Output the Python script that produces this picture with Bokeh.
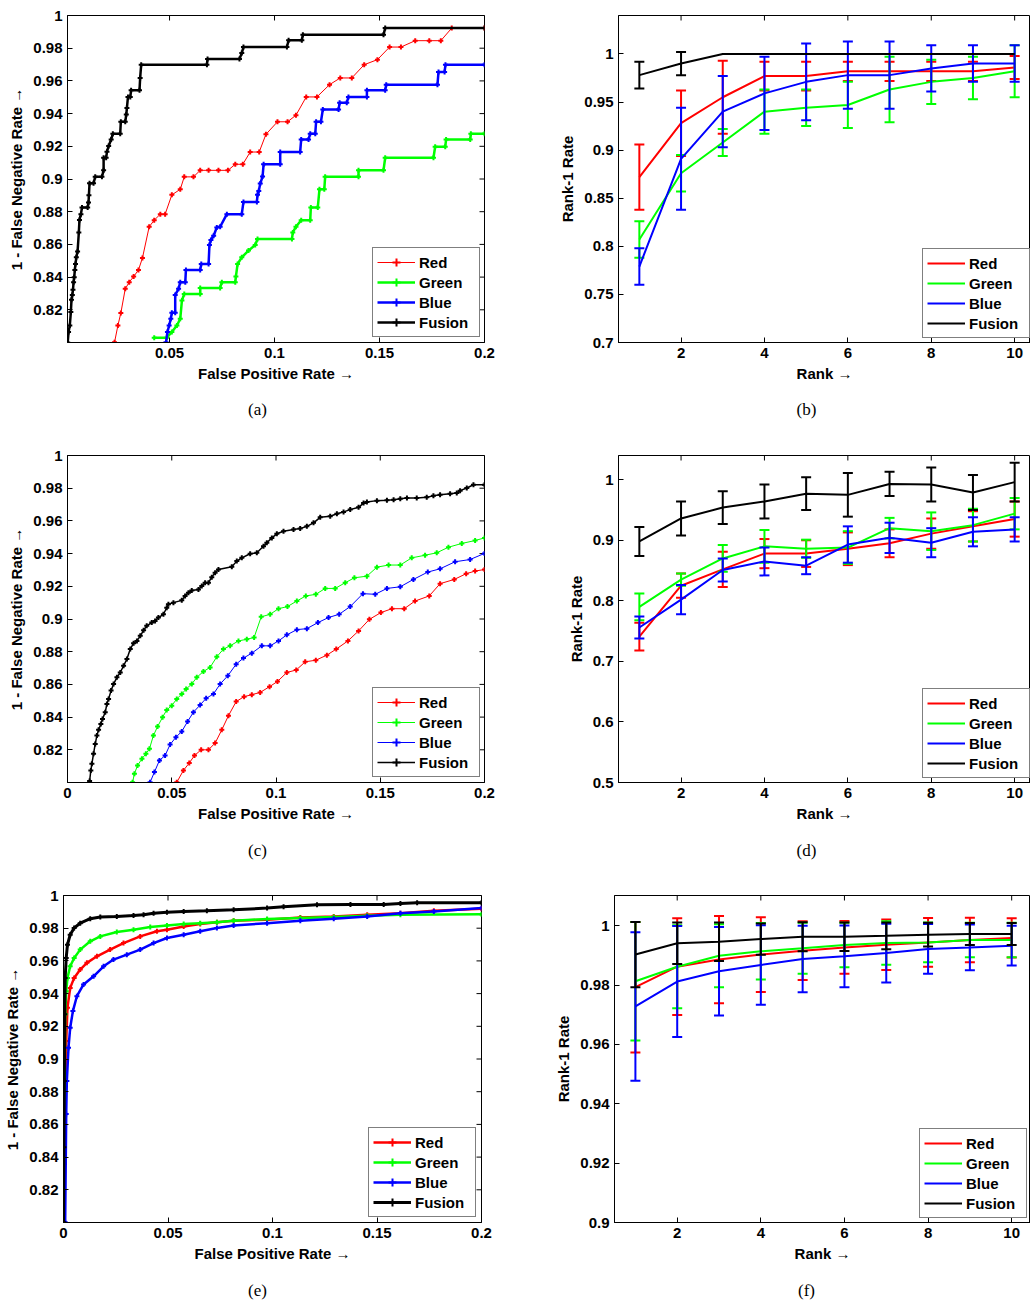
import math
from bokeh.plotting import figure
from bokeh.models import (ColumnDataSource, Range1d, FixedTicker,
                          Legend, LegendItem, CustomJSTickFormatter)
from bokeh.core.properties import value
from bokeh.layouts import row, column
from bokeh.embed import file_html
from bokeh.resources import INLINE

# ---------------- data ----------------
SERIES = ["Red", "Green", "Blue", "Fusion"]
RANKS = [1, 2, 3, 4, 5, 6, 7, 8, 9, 10]
CAPTIONS = [["(a)", "(b)"], ["(c)", "(d)"], ["(e)", "(f)"]]

ROC_XTICKS = [0, 0.05, 0.1, 0.15, 0.2]
ROC_YTICKS = [0.82, 0.84, 0.86, 0.88, 0.9, 0.92, 0.94, 0.96, 0.98, 1.0]
RANK_XTICKS = [2, 4, 6, 8, 10]
B_YTICKS = [0.7, 0.75, 0.8, 0.85, 0.9, 0.95, 1.0]
D_YTICKS = [0.5, 0.6, 0.7, 0.8, 0.9, 1.0]
F_YTICKS = [0.9, 0.92, 0.94, 0.96, 0.98, 1.0]

# (a) ROC
a_red_x = [0.0238, 0.0254, 0.0268, 0.0289, 0.0308, 0.0329, 0.0352, 0.0371, 0.0403, 0.0427, 0.0456, 0.0479, 0.0511, 0.0551, 0.0570, 0.0614, 0.0646, 0.0686, 0.0733, 0.0778, 0.0813, 0.0849, 0.0884, 0.0927, 0.0959, 0.1014, 0.1062, 0.1102, 0.1151, 0.1202, 0.1262, 0.1313, 0.1368, 0.1427, 0.1490, 0.1548, 0.1602, 0.1670, 0.1737, 0.1792, 0.1844, 0.2000]
a_red_y = [0.8001, 0.8104, 0.8180, 0.8328, 0.8369, 0.8403, 0.8444, 0.8517, 0.8708, 0.8748, 0.8785, 0.8785, 0.8903, 0.8937, 0.9013, 0.9013, 0.9053, 0.9053, 0.9053, 0.9053, 0.9090, 0.9090, 0.9165, 0.9165, 0.9273, 0.9350, 0.9350, 0.9390, 0.9502, 0.9502, 0.9577, 0.9618, 0.9618, 0.9699, 0.9730, 0.9807, 0.9807, 0.9846, 0.9846, 0.9846, 0.9923, 0.9923]
a_green_x = [0.0427, 0.0487, 0.0511, 0.0535, 0.0551, 0.0559, 0.0570, 0.0646, 0.0646, 0.0741, 0.0749, 0.0813, 0.0816, 0.0824, 0.0844, 0.0876, 0.0908, 0.0919, 0.1083, 0.1087, 0.1102, 0.1127, 0.1170, 0.1173, 0.1206, 0.1214, 0.1237, 0.1241, 0.1400, 0.1400, 0.1519, 0.1527, 0.1757, 0.1765, 0.1813, 0.1817, 0.1932, 0.1935, 0.2000]
a_green_y = [0.8029, 0.8029, 0.8064, 0.8104, 0.8145, 0.8257, 0.8297, 0.8297, 0.8334, 0.8334, 0.8369, 0.8369, 0.8403, 0.8480, 0.8521, 0.8562, 0.8596, 0.8633, 0.8633, 0.8673, 0.8708, 0.8748, 0.8748, 0.8826, 0.8826, 0.8937, 0.8937, 0.9013, 0.9013, 0.9053, 0.9053, 0.9130, 0.9130, 0.9197, 0.9197, 0.9242, 0.9242, 0.9277, 0.9277]
a_blue_x = [0.0483, 0.0490, 0.0498, 0.0506, 0.0511, 0.0527, 0.0527, 0.0543, 0.0551, 0.0575, 0.0578, 0.0646, 0.0651, 0.0686, 0.0690, 0.0697, 0.0710, 0.0725, 0.0741, 0.0773, 0.0844, 0.0852, 0.0916, 0.0919, 0.0925, 0.0932, 0.0943, 0.0948, 0.1027, 0.1027, 0.1122, 0.1127, 0.1162, 0.1170, 0.1194, 0.1198, 0.1221, 0.1230, 0.1305, 0.1310, 0.1344, 0.1352, 0.1440, 0.1440, 0.1527, 0.1532, 0.1776, 0.1781, 0.1810, 0.1814, 0.2000]
a_blue_y = [0.8001, 0.8064, 0.8104, 0.8145, 0.8182, 0.8182, 0.8291, 0.8328, 0.8369, 0.8369, 0.8444, 0.8444, 0.8480, 0.8480, 0.8596, 0.8627, 0.8653, 0.8704, 0.8708, 0.8785, 0.8785, 0.8860, 0.8860, 0.8903, 0.8927, 0.8972, 0.9015, 0.9090, 0.9090, 0.9165, 0.9165, 0.9242, 0.9242, 0.9277, 0.9277, 0.9350, 0.9350, 0.9425, 0.9425, 0.9466, 0.9466, 0.9502, 0.9502, 0.9543, 0.9543, 0.9577, 0.9577, 0.9655, 0.9655, 0.9699, 0.9699]
a_fus_x = [0.0015, 0.0019, 0.0025, 0.0030, 0.0033, 0.0037, 0.0040, 0.0043, 0.0046, 0.0049, 0.0052, 0.0056, 0.0062, 0.0068, 0.0071, 0.0078, 0.0083, 0.0110, 0.0114, 0.0116, 0.0119, 0.0138, 0.0146, 0.0178, 0.0186, 0.0186, 0.0198, 0.0202, 0.0210, 0.0222, 0.0230, 0.0265, 0.0268, 0.0289, 0.0294, 0.0297, 0.0302, 0.0313, 0.0317, 0.0357, 0.0360, 0.0365, 0.0678, 0.0681, 0.0833, 0.0844, 0.0852, 0.1059, 0.1067, 0.1130, 0.1135, 0.1519, 0.1527, 0.2000]
a_fus_y = [0.8000, 0.8064, 0.8104, 0.8186, 0.8261, 0.8291, 0.8322, 0.8369, 0.8399, 0.8444, 0.8480, 0.8521, 0.8557, 0.8673, 0.8750, 0.8785, 0.8826, 0.8826, 0.8856, 0.8901, 0.8974, 0.8974, 0.9013, 0.9013, 0.9053, 0.9130, 0.9130, 0.9167, 0.9202, 0.9242, 0.9277, 0.9277, 0.9350, 0.9350, 0.9395, 0.9435, 0.9502, 0.9502, 0.9543, 0.9543, 0.9618, 0.9699, 0.9699, 0.9734, 0.9734, 0.9770, 0.9807, 0.9807, 0.9848, 0.9848, 0.9882, 0.9882, 0.9923, 0.9923]

# (c) ROC
c_red_x = [0.0524, 0.0556, 0.0584, 0.0609, 0.0641, 0.0676, 0.0708, 0.0740, 0.0772, 0.0809, 0.0847, 0.0884, 0.0924, 0.0969, 0.1007, 0.1052, 0.1097, 0.1140, 0.1191, 0.1244, 0.1289, 0.1345, 0.1396, 0.1448, 0.1503, 0.1556, 0.1615, 0.1667, 0.1735, 0.1787, 0.1855, 0.1912, 0.1955, 0.2000]
c_red_y = [0.8001, 0.8074, 0.8119, 0.8165, 0.8200, 0.8200, 0.8241, 0.8322, 0.8409, 0.8495, 0.8525, 0.8537, 0.8551, 0.8586, 0.8618, 0.8673, 0.8688, 0.8738, 0.8748, 0.8779, 0.8816, 0.8866, 0.8927, 0.8998, 0.9039, 0.9063, 0.9063, 0.9110, 0.9141, 0.9216, 0.9242, 0.9277, 0.9293, 0.9303]
c_green_x = [0.0312, 0.0321, 0.0336, 0.0357, 0.0376, 0.0393, 0.0412, 0.0432, 0.0456, 0.0476, 0.0500, 0.0524, 0.0548, 0.0569, 0.0596, 0.0620, 0.0652, 0.0684, 0.0716, 0.0748, 0.0780, 0.0820, 0.0860, 0.0895, 0.0929, 0.0972, 0.1012, 0.1055, 0.1100, 0.1143, 0.1191, 0.1236, 0.1284, 0.1332, 0.1376, 0.1436, 0.1484, 0.1540, 0.1596, 0.1651, 0.1715, 0.1771, 0.1827, 0.1891, 0.1955, 0.2000]
c_green_y = [0.8001, 0.8054, 0.8104, 0.8145, 0.8176, 0.8206, 0.8287, 0.8342, 0.8399, 0.8444, 0.8470, 0.8511, 0.8541, 0.8572, 0.8602, 0.8643, 0.8679, 0.8704, 0.8769, 0.8816, 0.8836, 0.8866, 0.8876, 0.8887, 0.9013, 0.9029, 0.9063, 0.9076, 0.9110, 0.9141, 0.9151, 0.9187, 0.9187, 0.9222, 0.9252, 0.9262, 0.9317, 0.9330, 0.9330, 0.9374, 0.9390, 0.9405, 0.9439, 0.9462, 0.9480, 0.9496]
c_blue_x = [0.0396, 0.0417, 0.0441, 0.0468, 0.0492, 0.0520, 0.0548, 0.0576, 0.0604, 0.0636, 0.0665, 0.0700, 0.0732, 0.0769, 0.0809, 0.0844, 0.0884, 0.0932, 0.0972, 0.1012, 0.1052, 0.1100, 0.1148, 0.1201, 0.1252, 0.1303, 0.1356, 0.1417, 0.1476, 0.1532, 0.1596, 0.1659, 0.1728, 0.1787, 0.1859, 0.1931, 0.2000]
c_blue_y = [0.8001, 0.8064, 0.8135, 0.8165, 0.8232, 0.8277, 0.8312, 0.8373, 0.8430, 0.8474, 0.8515, 0.8541, 0.8602, 0.8653, 0.8724, 0.8761, 0.8791, 0.8836, 0.8836, 0.8866, 0.8903, 0.8935, 0.8941, 0.8978, 0.9009, 0.9029, 0.9076, 0.9155, 0.9151, 0.9187, 0.9197, 0.9242, 0.9287, 0.9307, 0.9350, 0.9364, 0.9401]
c_fus_x = [0.0106, 0.0112, 0.0117, 0.0125, 0.0133, 0.0141, 0.0149, 0.0160, 0.0168, 0.0181, 0.0189, 0.0197, 0.0209, 0.0221, 0.0237, 0.0253, 0.0269, 0.0285, 0.0301, 0.0317, 0.0333, 0.0349, 0.0365, 0.0380, 0.0404, 0.0420, 0.0436, 0.0460, 0.0476, 0.0484, 0.0508, 0.0548, 0.0564, 0.0580, 0.0596, 0.0628, 0.0644, 0.0660, 0.0676, 0.0692, 0.0708, 0.0724, 0.0788, 0.0812, 0.0836, 0.0876, 0.0908, 0.0940, 0.0956, 0.0980, 0.1004, 0.1036, 0.1084, 0.1116, 0.1148, 0.1180, 0.1212, 0.1260, 0.1292, 0.1324, 0.1356, 0.1396, 0.1420, 0.1436, 0.1484, 0.1532, 0.1564, 0.1596, 0.1628, 0.1675, 0.1723, 0.1755, 0.1787, 0.1835, 0.1867, 0.1883, 0.1915, 0.1947, 0.2000]
c_fus_y = [0.8009, 0.8074, 0.8115, 0.8176, 0.8236, 0.8287, 0.8322, 0.8358, 0.8389, 0.8430, 0.8480, 0.8511, 0.8562, 0.8602, 0.8643, 0.8673, 0.8714, 0.8755, 0.8816, 0.8852, 0.8866, 0.8897, 0.8931, 0.8958, 0.8978, 0.8988, 0.9009, 0.9029, 0.9069, 0.9090, 0.9100, 0.9114, 0.9141, 0.9161, 0.9175, 0.9181, 0.9202, 0.9222, 0.9222, 0.9256, 0.9283, 0.9303, 0.9319, 0.9354, 0.9374, 0.9399, 0.9405, 0.9445, 0.9466, 0.9496, 0.9521, 0.9537, 0.9547, 0.9553, 0.9567, 0.9588, 0.9622, 0.9628, 0.9644, 0.9655, 0.9669, 0.9683, 0.9709, 0.9716, 0.9724, 0.9726, 0.9730, 0.9736, 0.9740, 0.9740, 0.9744, 0.9754, 0.9760, 0.9766, 0.9770, 0.9785, 0.9801, 0.9821, 0.9821]

# (e) ROC
e_red_x = [0.0005, 0.0008, 0.0013, 0.0019, 0.0032, 0.0051, 0.0080, 0.0112, 0.0160, 0.0223, 0.0287, 0.0367, 0.0447, 0.0495, 0.0575, 0.0654, 0.0734, 0.0814, 0.0974, 0.1133, 0.1293, 0.1453, 0.1612, 0.1772, 0.2000]
e_red_y = [0.8001, 0.8663, 0.9110, 0.9313, 0.9435, 0.9496, 0.9547, 0.9588, 0.9628, 0.9669, 0.9709, 0.9750, 0.9781, 0.9791, 0.9811, 0.9825, 0.9837, 0.9846, 0.9852, 0.9866, 0.9872, 0.9882, 0.9892, 0.9907, 0.9919]
e_green_x = [0.0003, 0.0005, 0.0008, 0.0013, 0.0019, 0.0032, 0.0051, 0.0080, 0.0128, 0.0176, 0.0255, 0.0335, 0.0415, 0.0495, 0.0575, 0.0654, 0.0734, 0.0814, 0.0974, 0.1133, 0.1293, 0.1453, 0.1612, 0.2000]
e_green_y = [0.8001, 0.8663, 0.9273, 0.9415, 0.9496, 0.9567, 0.9618, 0.9669, 0.9720, 0.9750, 0.9777, 0.9791, 0.9807, 0.9817, 0.9825, 0.9831, 0.9837, 0.9846, 0.9856, 0.9862, 0.9868, 0.9876, 0.9882, 0.9886]
e_blue_x = [0.0008, 0.0013, 0.0016, 0.0024, 0.0032, 0.0045, 0.0064, 0.0096, 0.0144, 0.0192, 0.0239, 0.0303, 0.0367, 0.0431, 0.0495, 0.0575, 0.0654, 0.0734, 0.0814, 0.0974, 0.1133, 0.1293, 0.1453, 0.1612, 0.1772, 0.2000]
e_blue_y = [0.8001, 0.8663, 0.8866, 0.9069, 0.9191, 0.9293, 0.9384, 0.9456, 0.9506, 0.9567, 0.9608, 0.9638, 0.9669, 0.9709, 0.9740, 0.9760, 0.9781, 0.9801, 0.9817, 0.9831, 0.9846, 0.9858, 0.9872, 0.9892, 0.9902, 0.9923]
e_fus_x = [0.0000, 0.0002, 0.0004, 0.0006, 0.0008, 0.0013, 0.0019, 0.0032, 0.0051, 0.0080, 0.0128, 0.0176, 0.0255, 0.0335, 0.0383, 0.0431, 0.0495, 0.0575, 0.0686, 0.0814, 0.0974, 0.1053, 0.1213, 0.1373, 0.1532, 0.1612, 0.1692, 0.2000]
e_fus_y = [0.8001, 0.8460, 0.8866, 0.9273, 0.9496, 0.9618, 0.9699, 0.9760, 0.9801, 0.9831, 0.9858, 0.9868, 0.9872, 0.9878, 0.9882, 0.9892, 0.9898, 0.9902, 0.9907, 0.9913, 0.9923, 0.9931, 0.9943, 0.9945, 0.9945, 0.9951, 0.9955, 0.9955]

# (b) rank-1 rate (mean, error)
b_red_mean = [0.872, 0.928, 0.955, 0.977, 0.977, 0.982, 0.982, 0.982, 0.982, 0.986]
b_red_err = [0.034, 0.034, 0.038, 0.015, 0.015, 0.010, 0.010, 0.010, 0.010, 0.012]
b_green_mean = [0.807, 0.876, 0.908, 0.940, 0.944, 0.947, 0.963, 0.971, 0.975, 0.982]
b_green_err = [0.019, 0.019, 0.014, 0.023, 0.019, 0.024, 0.034, 0.023, 0.022, 0.027]
b_blue_mean = [0.779, 0.891, 0.940, 0.959, 0.971, 0.978, 0.978, 0.985, 0.990, 0.990]
b_blue_err = [0.019, 0.053, 0.037, 0.038, 0.040, 0.035, 0.035, 0.024, 0.019, 0.019]
b_fus_mean = [0.978, 0.990, 1.0, 1.0, 1.0, 1.0, 1.0, 1.0, 1.0, 1.0]
b_fus_err = [0.014, 0.012, 0.0, 0.0, 0.0, 0.0, 0.0, 0.0, 0.0, 0.0]

# (d)
d_red_mean = [0.741, 0.825, 0.852, 0.878, 0.878, 0.886, 0.895, 0.911, 0.923, 0.935]
d_red_err = [0.023, 0.020, 0.029, 0.024, 0.022, 0.027, 0.023, 0.025, 0.025, 0.029]
d_green_mean = [0.790, 0.835, 0.870, 0.890, 0.886, 0.888, 0.920, 0.915, 0.925, 0.944]
d_green_err = [0.022, 0.010, 0.022, 0.027, 0.015, 0.027, 0.017, 0.031, 0.027, 0.026]
d_blue_mean = [0.756, 0.802, 0.851, 0.865, 0.858, 0.893, 0.904, 0.896, 0.914, 0.918]
d_blue_err = [0.018, 0.024, 0.019, 0.023, 0.014, 0.030, 0.025, 0.024, 0.024, 0.020]
d_fus_mean = [0.898, 0.936, 0.954, 0.964, 0.977, 0.975, 0.993, 0.992, 0.979, 0.996]
d_fus_err = [0.024, 0.028, 0.027, 0.028, 0.027, 0.036, 0.020, 0.028, 0.029, 0.032]

# (f)
f_red_mean = [0.9793, 0.9862, 0.9886, 0.9903, 0.9916, 0.9927, 0.9936, 0.9944, 0.9952, 0.9959]
f_red_err = [0.0220, 0.0163, 0.0147, 0.0126, 0.0099, 0.0089, 0.0085, 0.0082, 0.0075, 0.0066]
f_green_mean = [0.9813, 0.9862, 0.9899, 0.9914, 0.9924, 0.9935, 0.9942, 0.9944, 0.9952, 0.9952]
f_green_err = [0.0200, 0.0140, 0.0106, 0.0095, 0.0086, 0.0075, 0.0073, 0.0067, 0.0058, 0.0058]
f_blue_mean = [0.9728, 0.9812, 0.9847, 0.9868, 0.9888, 0.9897, 0.9908, 0.9922, 0.9927, 0.9933]
f_blue_err = [0.0250, 0.0187, 0.0149, 0.0134, 0.0112, 0.0104, 0.0099, 0.0084, 0.0077, 0.0067]
f_fus_mean = [0.9903, 0.9941, 0.9946, 0.9955, 0.9963, 0.9963, 0.9966, 0.9970, 0.9972, 0.9972]
f_fus_err = [0.0110, 0.0070, 0.0065, 0.0053, 0.0049, 0.0048, 0.0045, 0.0040, 0.0037, 0.0037]

# ---------------- styling ----------------
SANS = "Liberation Sans"
SERIF = "Liberation Serif"
COLORS = {"Red": "#ff0000", "Green": "#00ff00", "Blue": "#0000ff", "Fusion": "#000000"}
FMT = "return String(Math.round(tick * 10000) / 10000);"


def style_axis(ax, ticks, label, label_standoff):
    ax.ticker = FixedTicker(ticks=ticks)
    ax.formatter = CustomJSTickFormatter(code=FMT)
    ax.axis_label = label
    ax.major_tick_in = 5
    ax.major_tick_out = 0
    ax.minor_tick_in = 0
    ax.minor_tick_out = 0
    ax.axis_line_color = "black"
    ax.major_tick_line_color = "black"
    ax.major_label_text_font = SANS
    ax.major_label_text_font_size = "15px"
    ax.major_label_text_font_style = "bold"
    ax.major_label_text_color = "black"
    ax.major_label_standoff = 5
    ax.axis_label_text_font = SANS
    ax.axis_label_text_font_size = "15px"
    ax.axis_label_text_font_style = "bold"
    ax.axis_label_text_color = "black"
    ax.axis_label_standoff = label_standoff


def make_fig(w, h, borders, xr, yr, xticks, yticks, xlabel, ylabel, box_right):
    left, right, top, bottom = borders
    p = figure(width=w, height=h, min_border_left=left, min_border_right=right,
               min_border_top=top, min_border_bottom=bottom,
               x_range=Range1d(*xr), y_range=Range1d(*yr), title=None,
               output_backend="svg", toolbar_location=None)
    p.grid.visible = False
    p.outline_line_color = "black"
    p.outline_line_width = 1
    p.background_fill_color = "white"
    p.border_fill_color = "white"
    style_axis(p.xaxis[0], xticks, xlabel, 4)
    style_axis(p.yaxis[0], yticks, ylabel, 5)
    # inward tick marks on the top (and right) edges of the box
    tx = [t for t in xticks if xr[0] <= t <= xr[1]]
    p.scatter(x=tx, y=[yr[1]] * len(tx), marker="dash", angle=math.pi / 2, size=10,
              line_color="black", line_width=1)
    if box_right:
        ty = [t for t in yticks if yr[0] <= t <= yr[1]]
        p.scatter(x=[xr[1]] * len(ty), y=ty, marker="dash", size=10,
                  line_color="black", line_width=1)
    return p


def caption_fig(texts, h, cy):
    # a blank strip whose ranges map 1:1 to pixels; holds the two sub-figure captions
    p = figure(width=1030, height=h, min_border=0, x_range=Range1d(0, 1030),
               y_range=Range1d(h, 0), x_axis_location=None, y_axis_location=None,
               title=None, output_backend="svg", toolbar_location=None)
    p.grid.visible = False
    p.outline_line_color = None
    p.background_fill_color = "white"
    p.border_fill_color = "white"
    p.text(x=[257, 806], y=[cy, cy], text=texts, text_align="center",
           text_baseline="middle", text_font=value(SERIF),
           text_font_size=value("17px"), text_color="black")
    return p


def add_legend(p, items, loc):
    lg = Legend(items=[LegendItem(label=k, renderers=r) for k, r in items],
                location=loc, margin=0, padding=4, spacing=0,
                glyph_width=38, glyph_height=20, label_height=20, label_width=56,
                label_standoff=4, border_line_color="black", border_line_width=1,
                background_fill_color="white", background_fill_alpha=1.0,
                label_text_font=SANS, label_text_font_size="15px",
                label_text_font_style="bold", label_text_color="black")
    p.add_layout(lg)


def add_roc(p, xs, ys, color, lw):
    assert len(xs) == len(ys)
    src = ColumnDataSource(dict(x=xs, y=ys))
    ln = p.line("x", "y", source=src, line_color=color, line_width=lw)
    sc = p.scatter("x", "y", source=src, marker="cross", size=5,
                   line_color=color, line_width=2)
    return [ln, sc]


def add_rank(p, mean, err, color):
    src = ColumnDataSource(dict(x=RANKS, y=mean))
    ln = p.line("x", "y", source=src, line_color=color, line_width=2)
    keep = [i for i, e in enumerate(err) if e > 0]
    esrc = ColumnDataSource(dict(x=[RANKS[i] for i in keep],
                                 lo=[mean[i] - err[i] for i in keep],
                                 hi=[mean[i] + err[i] for i in keep]))
    p.segment(x0="x", y0="lo", x1="x", y1="hi", source=esrc, line_color=color, line_width=2)
    p.scatter("x", "lo", source=esrc, marker="dash", size=10, line_color=color, line_width=2)
    p.scatter("x", "hi", source=esrc, marker="dash", size=10, line_color=color, line_width=2)
    return [ln]


FPR = "False Positive Rate \u2192"
TPR = "1 - False Negative Rate \u2192"
RANK = "Rank \u2192"
R1 = "Rank-1 Rate"

# ---------- (a) ----------
pa = make_fig(520, 390, (67, 36, 14, 48), (0.0014, 0.2), (0.8, 1.0), ROC_XTICKS, ROC_YTICKS,
              FPR, TPR, True)
ia = [("Red", add_roc(pa, a_red_x, a_red_y, COLORS["Red"], 1)),
      ("Green", add_roc(pa, a_green_x, a_green_y, COLORS["Green"], 2.5)),
      ("Blue", add_roc(pa, a_blue_x, a_blue_y, COLORS["Blue"], 2.5)),
      ("Fusion", add_roc(pa, a_fus_x, a_fus_y, COLORS["Fusion"], 2.5))]
add_legend(pa, ia, (305, 5))

# ---------- (b) ----------
pb = make_fig(510, 390, (98, 0, 15, 47), (0.5, 10.38), (0.7, 1.04), RANK_XTICKS, B_YTICKS,
              RANK, R1, False)
ib = [("Red", add_rank(pb, b_red_mean, b_red_err, COLORS["Red"])),
      ("Green", add_rank(pb, b_green_mean, b_green_err, COLORS["Green"])),
      ("Blue", add_rank(pb, b_blue_mean, b_blue_err, COLORS["Blue"])),
      ("Fusion", add_rank(pb, b_fus_mean, b_fus_err, COLORS["Fusion"]))]
add_legend(pb, ib, (304, 4))

# ---------- (c) ----------
pc = make_fig(520, 390, (67, 36, 14, 48), (0.0, 0.2), (0.8, 1.0), ROC_XTICKS, ROC_YTICKS,
              FPR, TPR, True)
ic = [("Red", add_roc(pc, c_red_x, c_red_y, COLORS["Red"], 1)),
      ("Green", add_roc(pc, c_green_x, c_green_y, COLORS["Green"], 1)),
      ("Blue", add_roc(pc, c_blue_x, c_blue_y, COLORS["Blue"], 1)),
      ("Fusion", add_roc(pc, c_fus_x, c_fus_y, COLORS["Fusion"], 1.5))]
add_legend(pc, ic, (305, 5))

# ---------- (d) ----------
pd_ = make_fig(510, 390, (98, 0, 15, 47), (0.5, 10.38), (0.5, 1.04), RANK_XTICKS, D_YTICKS,
               RANK, R1, False)
idd = [("Red", add_rank(pd_, d_red_mean, d_red_err, COLORS["Red"])),
       ("Green", add_rank(pd_, d_green_mean, d_green_err, COLORS["Green"])),
       ("Blue", add_rank(pd_, d_blue_mean, d_blue_err, COLORS["Blue"])),
       ("Fusion", add_rank(pd_, d_fus_mean, d_fus_err, COLORS["Fusion"]))]
add_legend(pd_, idd, (304, 4))

# ---------- (e) ----------
pe = make_fig(520, 390, (63, 39, 14, 48), (0.0, 0.2), (0.8, 1.0), ROC_XTICKS, ROC_YTICKS,
              FPR, TPR, True)
ie = [("Red", add_roc(pe, e_red_x, e_red_y, COLORS["Red"], 2.5)),
      ("Green", add_roc(pe, e_green_x, e_green_y, COLORS["Green"], 2.5)),
      ("Blue", add_roc(pe, e_blue_x, e_blue_y, COLORS["Blue"], 2.5)),
      ("Fusion", add_roc(pe, e_fus_x, e_fus_y, COLORS["Fusion"], 3))]
add_legend(pe, ie, (305, 5))

# ---------- (f) ----------
pf = make_fig(510, 390, (94, 0, 15, 47), (0.5, 10.45), (0.9, 1.0102), RANK_XTICKS, F_YTICKS,
              RANK, R1, False)
iff = [("Red", add_rank(pf, f_red_mean, f_red_err, COLORS["Red"])),
       ("Green", add_rank(pf, f_green_mean, f_green_err, COLORS["Green"])),
       ("Blue", add_rank(pf, f_blue_mean, f_blue_err, COLORS["Blue"])),
       ("Fusion", add_rank(pf, f_fus_mean, f_fus_err, COLORS["Fusion"]))]
add_legend(pf, iff, (305, 4))

cap1 = caption_fig(CAPTIONS[0], 50, 19)
cap2 = caption_fig(CAPTIONS[1], 50, 20)
cap3 = caption_fig(CAPTIONS[2], 34, 20)

layout = column(row(pa, pb), cap1, row(pc, pd_), cap2, row(pe, pf), cap3)

open("out.html", "w").write(file_html(layout, INLINE))
